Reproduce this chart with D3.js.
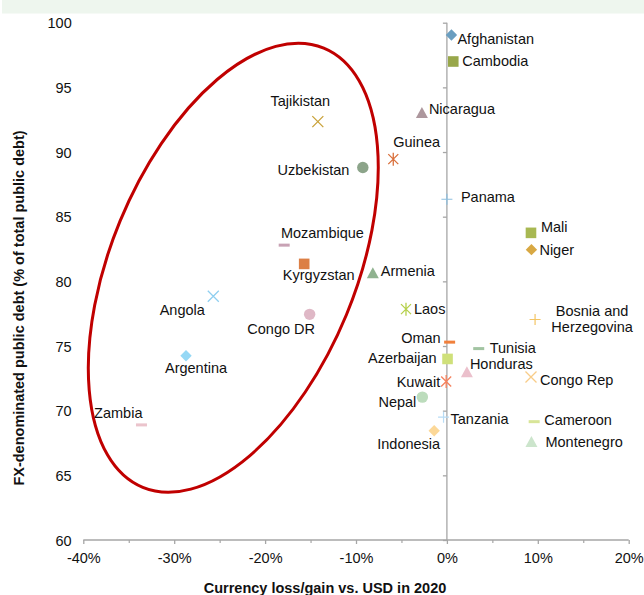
<!DOCTYPE html>
<html>
<head>
<meta charset="utf-8">
<script src="https://cdn.jsdelivr.net/npm/d3@7"></script>
<style>
  html, body { margin: 0; padding: 0; background: #fff; }
  svg { display: block; font-family: "Liberation Sans", Arial, sans-serif; }
</style>
</head>
<body>
<svg id="chart" width="644" height="595"></svg>
<script>
// ---------------- data ----------------
const countries = ["Afghanistan","Cambodia","Nicaragua","Guinea","Panama","Tajikistan","Uzbekistan",
  "Mozambique","Kyrgyzstan","Armenia","Angola","Congo DR","Argentina","Zambia","Laos","Oman",
  "Azerbaijan","Kuwait","Nepal","Tanzania","Indonesia","Tunisia","Honduras","Congo Rep","Mali",
  "Niger","Bosnia and Herzegovina","Cameroon","Montenegro"];
// currency loss/gain vs USD in 2020 (%)
const currencyChange = [0.5, 0.7, -2.75, -5.9, 0.0, -14.2, -9.25,
  -17.9, -15.7, -8.15, -25.7, -15.1, -28.7, -33.6, -4.5, 0.3,
  0.07, -0.08, -2.7, -0.37, -1.4, 3.5, 2.2, 9.25, 9.25,
  9.3, 9.7, 9.6, 9.3];
// FX-denominated public debt (% of total public debt)
const fxDebtShare = [99.05, 97.0, 93.05, 89.45, 86.35, 92.35, 88.8,
  82.8, 81.35, 80.65, 78.85, 77.45, 74.25, 68.9, 77.85, 75.3,
  74.0, 72.25, 71.05, 69.5, 68.45, 74.8, 73.0, 72.6, 83.75,
  82.45, 77.05, 69.15, 67.6];
const xTicks = [-40, -30, -20, -10, 0, 10, 20];
const xMinorTicks = [-35, -25, -15, -5, 5, 15];
const yTicks = [60, 65, 70, 75, 80, 85, 90, 95, 100];
const xTitle = "Currency loss/gain vs. USD in 2020";
const yTitle = "FX-denominated public debt (% of total public debt)";

// ---------------- styles ----------------
const markerShape = ["diamond","square","triangle","asterisk","plus","x","circle",
  "dash","square","triangle","x","circle","diamond","dash","asterisk","dash",
  "square","asterisk","circle","plus","diamond","dash","triangle","x","square",
  "diamond","plus","dash","triangle"];
const markerColor = ["#6a9ec0","#98a74a","#ad979d","#d9703c","#8ec0e0","#c9a23a","#8ca48a",
  "#c8a2b4","#dc7f45","#8fb28f","#8fcff0","#dfb8c6","#95d8f5","#ebc4cc","#b5d04a","#f0803c",
  "#cfe07a","#f5825e","#bcdcbc","#b8dcf5","#fcd898","#a2c4a2","#ebc0cc","#f8cc88","#a8b852",
  "#d8a843","#f3c565","#d8e598","#cce5cc"];
// label placement: [anchor, dx, dy]
const labelPlacement = {
  "Afghanistan": ["start", 6, 9], "Cambodia": ["start", 9, 5], "Nicaragua": ["start", 7, 1],
  "Guinea": ["start", 0, -12], "Panama": ["start", 14, 3], "Tajikistan": ["middle", -17.5, -15.5],
  "Uzbekistan": ["end", -13.5, 7], "Mozambique": ["start", -3.3, -7.3], "Kyrgyzstan": ["middle", 14.5, 16],
  "Armenia": ["start", 8, 3], "Angola": ["middle", -31, 19], "Congo DR": ["middle", -28.5, 19.7],
  "Argentina": ["middle", 10, 17.7], "Zambia": ["end", 1, -7.3], "Laos": ["start", 8, 5],
  "Oman": ["end", -9, 1], "Azerbaijan": ["end", -11, 4], "Kuwait": ["end", -6, 5],
  "Nepal": ["end", -6, 10], "Tanzania": ["start", 7, 6.5], "Indonesia": ["middle", -25.5, 18],
  "Tunisia": ["start", 11, 4], "Honduras": ["start", 3, -3], "Congo Rep": ["start", 9, 8],
  "Mali": ["start", 10, -1], "Niger": ["start", 8, 5], "Bosnia and Herzegovina": ["middle", 57, -4],
  "Cameroon": ["start", 10, 3.5], "Montenegro": ["start", 14, 5]
};
const labelLines = { "Bosnia and Herzegovina": ["Bosnia and", "Herzegovina"] };
// highlight ellipse (centre in data units, radii in px, rotation in degrees)
const highlight = { cx: -23.5, cy: 81.05, rx: 122.5, ry: 237.5, rotate: 22.4 };

// ---------------- chart ----------------
const svg = d3.select("#chart");
const FS = "14.5px";
const x = d3.scaleLinear().domain([-40, 20]).range([83.3, 628.7]);
const y = d3.scaleLinear().domain([60, 100]).range([540, 22.7]);

// top band
svg.append("rect").attr("x", 2).attr("y", 0).attr("width", 642).attr("height", 13.5).attr("fill", "#eef6ee");

// y axis (at x=0) with ticks
const yAxisG = svg.append("g").attr("transform", `translate(${x(0)},0)`)
  .call(d3.axisLeft(y).tickValues(yTicks).tickSize(4).tickFormat(""));
yAxisG.select(".domain").attr("stroke", "#a6a6a6").attr("stroke-width", 1.3).attr("d", `M0,${y(100)}V${y(60)}`);
yAxisG.selectAll(".tick line").attr("stroke", "#a6a6a6").attr("stroke-width", 1.3);

// y tick labels (left side)
const yLab = svg.append("g").attr("transform", `translate(71.7,0)`)
  .call(d3.axisLeft(y).tickValues(yTicks).tickSize(0).tickPadding(0));
yLab.select(".domain").remove();
yLab.selectAll("text").attr("font-size", FS).attr("fill", "#111").attr("font-family", "Liberation Sans, Arial, sans-serif").attr("dy", "0.36em");

// x axis
const xAxisG = svg.append("g").attr("transform", `translate(0,${y(60)})`)
  .call(d3.axisBottom(x).tickValues(xTicks).tickSize(4).tickPadding(9).tickFormat(d => d + "%"));
xAxisG.select(".domain").attr("stroke", "#a6a6a6").attr("stroke-width", 1.3).attr("d", `M${x(-40)},0H${x(20)}`);
xAxisG.selectAll(".tick line").attr("stroke", "#a6a6a6").attr("stroke-width", 1.3);
xAxisG.selectAll("text").attr("font-size", FS).attr("fill", "#111").attr("font-family", "Liberation Sans, Arial, sans-serif");
const xMinorG = svg.append("g").attr("transform", `translate(0,${y(60)})`)
  .call(d3.axisBottom(x).tickValues(xMinorTicks).tickSize(3).tickFormat(""));
xMinorG.select(".domain").remove();
xMinorG.selectAll(".tick line").attr("stroke", "#a6a6a6").attr("stroke-width", 1.2);

// axis titles
svg.append("text").attr("x", 325).attr("y", 593).attr("text-anchor", "middle")
  .attr("font-size", FS).attr("font-weight", "bold").attr("fill", "#111").text(xTitle);
svg.append("text").attr("transform", "translate(23.5,308) rotate(-90)").attr("text-anchor", "middle")
  .attr("font-size", FS).attr("font-weight", "bold").attr("fill", "#111").text(yTitle);

// highlight ellipse
svg.append("ellipse")
  .attr("transform", `translate(${x(highlight.cx)},${y(highlight.cy)}) rotate(${highlight.rotate})`)
  .attr("rx", highlight.rx).attr("ry", highlight.ry)
  .attr("fill", "none").attr("stroke", "#c00000").attr("stroke-width", 3);

// markers
function drawMarker(g, shape, color) {
  switch (shape) {
    case "diamond":
      g.append("path").attr("d", "M0,-5.7L5.7,0L0,5.7L-5.7,0Z").attr("fill", color); break;
    case "square":
      g.append("rect").attr("x", -5.3).attr("y", -5.3).attr("width", 10.6).attr("height", 10.6).attr("fill", color); break;
    case "triangle":
      g.append("path").attr("d", "M0,-5.6L6,5.4L-6,5.4Z").attr("fill", color); break;
    case "circle":
      g.append("circle").attr("r", 5.7).attr("fill", color); break;
    case "dash":
      g.append("rect").attr("x", -5.5).attr("y", -1.5).attr("width", 11).attr("height", 3).attr("fill", color); break;
    case "x":
      g.append("path").attr("d", "M-5.5,-5.5L5.5,5.5M-5.5,5.5L5.5,-5.5").attr("stroke", color).attr("stroke-width", 1.3).attr("fill", "none"); break;
    case "asterisk":
      g.append("path").attr("d", "M-5,-5L5,5M-5,5L5,-5M0,-6.5V6.5").attr("stroke", color).attr("stroke-width", 1.3).attr("fill", "none"); break;
    case "plus":
      g.append("path").attr("d", "M-5.5,0H5.5M0,-5.5V5.5").attr("stroke", color).attr("stroke-width", 1.2).attr("fill", "none"); break;
  }
}

const points = countries.map((c, i) => ({ name: c, cx: currencyChange[i], cy: fxDebtShare[i], shape: markerShape[i], color: markerColor[i] }));

const pg = svg.append("g");
points.forEach(p => {
  const g = pg.append("g").attr("transform", `translate(${x(p.cx)},${y(p.cy)})`);
  drawMarker(g, p.shape, p.color);
});

const lg = svg.append("g").attr("font-size", FS).attr("fill", "#111");
points.forEach(p => {
  const [anchor, dx, dy] = labelPlacement[p.name];
  const t = lg.append("text").attr("x", x(p.cx) + dx).attr("y", y(p.cy) + dy).attr("text-anchor", anchor);
  const lines = labelLines[p.name];
  if (lines) {
    lines.forEach((ln, k) => t.append("tspan").attr("x", x(p.cx) + dx).attr("dy", k === 0 ? 0 : 16.5).text(ln));
  } else {
    t.text(p.name);
  }
});
</script>
</body>
</html>
